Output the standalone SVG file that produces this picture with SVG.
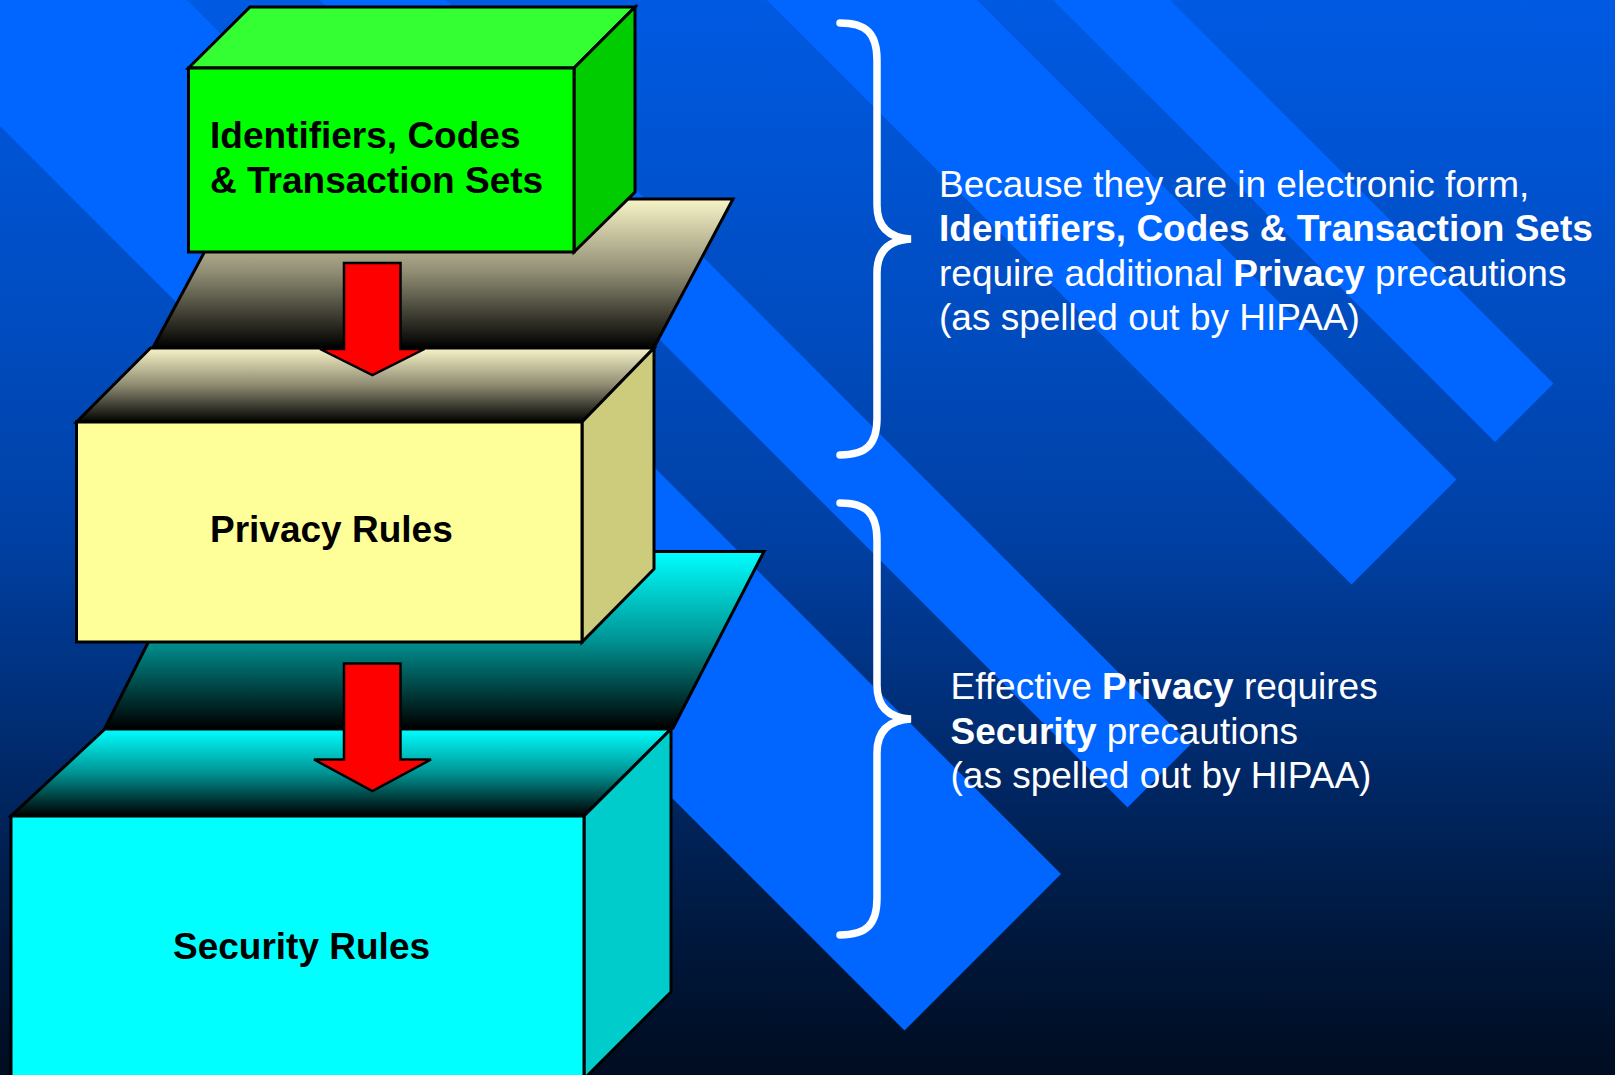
<svg xmlns="http://www.w3.org/2000/svg" width="1615" height="1075" viewBox="0 0 1615 1075">
  <defs>
    <linearGradient id="bg" x1="0" y1="0" x2="0" y2="1">
      <stop offset="0" stop-color="#005ae2"/>
      <stop offset="0.3" stop-color="#004cc0"/>
      <stop offset="0.5" stop-color="#0040a4"/>
      <stop offset="0.7" stop-color="#002a6c"/>
      <stop offset="0.85" stop-color="#001a42"/>
      <stop offset="1" stop-color="#000c20"/>
    </linearGradient>
    <linearGradient id="creamFade" x1="0" y1="0" x2="0" y2="1">
      <stop offset="0" stop-color="#f8f4c8"/>
      <stop offset="0.5" stop-color="#8e8b72"/>
      <stop offset="1" stop-color="#000000"/>
    </linearGradient>
    <linearGradient id="cyanFade" x1="0" y1="0" x2="0" y2="1">
      <stop offset="0" stop-color="#00ffff"/>
      <stop offset="0.5" stop-color="#009494"/>
      <stop offset="1" stop-color="#000000"/>
    </linearGradient>
    <!-- curly brace, 432 px tall, cusp pointing right -->
    <path id="brace" d="M840,0 C866,0 877,10 877,37 L877,182 C877,205 890,215 911,216 C890,217 877,227 877,250 L877,395 C877,422 866,432 840,432"/>
    <style>
      .face { stroke: #000; stroke-width: 3; stroke-linejoin: miter; }
      .stripe { fill: #0066ff; }
      .label { font-family: "Liberation Sans", Arial, Helvetica, sans-serif; font-weight: bold; font-size: 37px; fill: #000; }
      .note { font-family: "Liberation Sans", Arial, Helvetica, sans-serif; font-size: 37px; fill: #fff; }
      .note .b { font-weight: bold; }
      .brace { fill: none; stroke: #fff; stroke-width: 7.5; stroke-linecap: round; }
      .arrow { fill: #ff0000; stroke: #000; stroke-width: 2.5; stroke-linejoin: miter; }
    </style>
  </defs>

  <!-- backdrop -->
  <rect x="0" y="0" width="1615" height="1075" fill="url(#bg)"/>
  <g id="stripes">
    <polygon class="stripe" points="-176,-50 137,-50 137,-50 1061,874 904.5,1030.5"/>
    <polygon class="stripe" points="270,-50 396,-50 1190.5,744.5 1127.5,807.5"/>
    <polygon class="stripe" points="717,-50 927,-50 1456.5,479.5 1351.5,584.5"/>
    <polygon class="stripe" points="1003,-50 1120,-50 1553.5,383.5 1495,442"/>
  </g>

  <!-- bottom tier -->
  <g id="tier-security">
    <polygon class="face" fill="url(#cyanFade)" points="194,551.5 764,551.5 673,728 105,728"/>
    <polygon class="face" fill="url(#cyanFade)" points="105,729 671,729 584,816 11,816"/>
    <polygon class="face" fill="#00cccc" points="584,816 671,729 671,992 584,1079"/>
    <rect class="face" x="11" y="816" width="573" height="270" fill="#00ffff"/>
    <text class="label" x="173" y="959">Security Rules</text>
  </g>

  <!-- middle tier -->
  <g id="tier-privacy">
    <polygon class="face" fill="url(#creamFade)" points="233,199 733,199 654,347.5 153,347.5"/>
    <polygon class="face" fill="url(#creamFade)" points="150.5,348 654,348 582,422 76.5,422"/>
    <polygon class="face" fill="#cdcb7c" points="582,422 654,348 654,569 582,642"/>
    <rect class="face" x="76.5" y="422" width="505.5" height="220" fill="#ffff99"/>
    <text class="label" x="210" y="542">Privacy Rules</text>
  </g>

  <!-- top tier -->
  <g id="tier-transactions">
    <polygon class="face" fill="#33ff33" points="188.5,68 250,7 635,7 574,68"/>
    <polygon class="face" fill="#00cc00" points="574,68 635,7 635,192 574,252"/>
    <rect class="face" x="188.5" y="68" width="385.5" height="184" fill="#00ff00"/>
    <text class="label" x="210" y="148">Identifiers, Codes</text>
    <text class="label" x="210" y="193">&amp; Transaction Sets</text>
  </g>

  <!-- block arrows between tiers -->
  <g id="connectors">
    <polygon class="arrow" points="344,263 400.5,263 400.5,349 424.5,349 372.4,375 320,349 344,349"/>
    <polygon class="arrow" points="344,663.5 400.5,663.5 400.5,759.5 431,759.5 372.4,791 314,759.5 344,759.5"/>
  </g>

  <!-- explanatory notes -->
  <g id="note-electronic">
    <use href="#brace" class="brace" transform="translate(0,23)"/>
    <text class="note" x="939" y="197">
      <tspan x="939" y="197">Because they are in electronic form,</tspan>
      <tspan x="939" y="241.3" class="b">Identifiers, Codes &amp; Transaction Sets</tspan>
      <tspan x="939" y="285.5">require additional <tspan class="b">Privacy</tspan> precautions</tspan>
      <tspan x="939" y="329.8">(as spelled out by HIPAA)</tspan>
    </text>
  </g>
  <g id="note-security">
    <use href="#brace" class="brace" transform="translate(0,503)"/>
    <text class="note" x="950.5" y="699.3">
      <tspan x="950.5" y="699.3">Effective <tspan class="b">Privacy</tspan> requires</tspan>
      <tspan x="950.5" y="743.6"><tspan class="b">Security</tspan> precautions</tspan>
      <tspan x="950.5" y="787.9">(as spelled out by HIPAA)</tspan>
    </text>
  </g>
</svg>
